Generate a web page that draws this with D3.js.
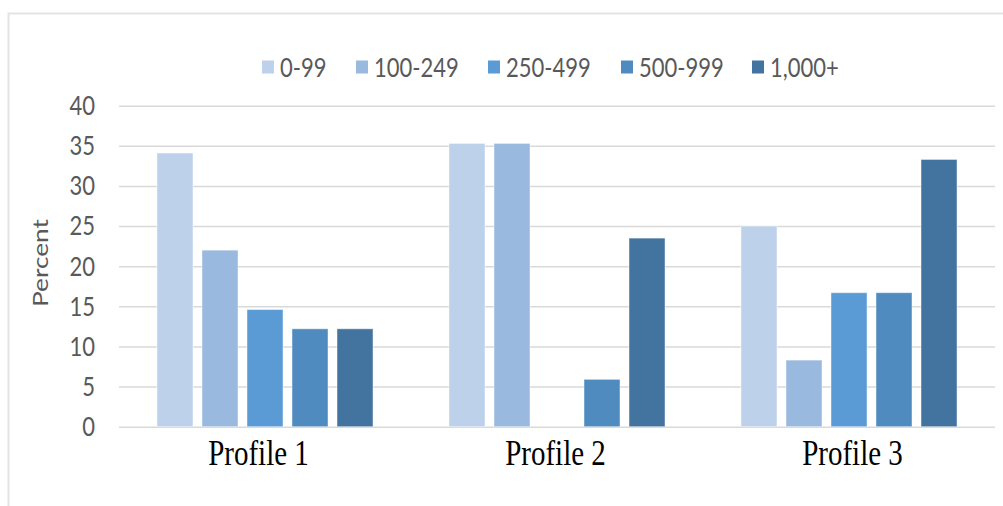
<!DOCTYPE html>
<html>
<head>
<meta charset="utf-8">
<script src="https://cdn.jsdelivr.net/npm/d3@7"></script>
<style>
  html, body { margin: 0; padding: 0; background: #fff; }
  svg { display: block; }
</style>
</head>
<body>
<svg id="chart" width="1003" height="506"></svg>
<script>
// Company size distribution (percent) for each profile
const profiles = ["Profile 1", "Profile 2", "Profile 3"];
const sizeClasses = ["0-99", "100-249", "250-499", "500-999", "1,000+"];
const size0to99 = [34.1, 35.3, 25.0];
const size100to249 = [22.0, 35.3, 8.3];
const size250to499 = [14.6, 0, 16.7];
const size500to999 = [12.2, 5.9, 16.7];
const size1000plus = [12.2, 23.5, 33.3];
const yTicks = [0, 5, 10, 15, 20, 25, 30, 35, 40];
const palette = ["#bdd1eb", "#99b9df", "#5b9bd5", "#4f8bbf", "#43739f"];

const seriesValues = [size0to99, size100to249, size250to499, size500to999, size1000plus];
const rows = [];
profiles.forEach((p, i) => {
  sizeClasses.forEach((s, j) => rows.push({ profile: p, size: s, value: seriesValues[j][i] }));
});

const svg = d3.select("#chart");
const STRETCH = 1.25;           // text is drawn slightly tall
const uiFont = "Lato, 'Noto Sans', sans-serif";

// outer frame
svg.append("path")
  .attr("d", "M8.5,510 V13.5 H1010")
  .attr("fill", "none")
  .attr("stroke", "#e4e4e4")
  .attr("stroke-width", 2);

const plotLeft = 119, plotRight = 995, plotTop = 105.7, plotBottom = 426.7;

const x0 = d3.scaleBand().domain(profiles).range([plotLeft, plotRight]).padding(0);
const x1 = d3.scaleBand().domain(sizeClasses).range([0, x0.bandwidth()])
  .paddingInner(0.2).paddingOuter(0.844);
const y = d3.scaleLinear().domain([0, 40]).range([plotBottom, plotTop]);
const color = d3.scaleOrdinal().domain(sizeClasses).range(palette);

// gridlines and y tick labels
const yAxis = svg.append("g")
  .attr("transform", `translate(${plotLeft},0)`)
  .call(d3.axisLeft(y).tickValues(yTicks).tickSizeInner(-(plotRight - plotLeft)).tickSizeOuter(0).tickPadding(24));
yAxis.select(".domain").remove();
yAxis.selectAll(".tick line").attr("stroke", "#d9d9d9").attr("stroke-width", 1.5);
yAxis.selectAll(".tick text")
  .attr("fill", "#595959")
  .style("font-family", uiFont)
  .style("font-size", "22px")
  .attr("transform", `scale(1,${STRETCH})`);

// bars
svg.append("g").selectAll("rect")
  .data(rows)
  .join("rect")
  .attr("x", d => x0(d.profile) + x1(d.size))
  .attr("width", x1.bandwidth())
  .attr("y", d => y(d.value))
  .attr("height", d => y(0) - y(d.value))
  .attr("fill", d => color(d.size))
  .attr("stroke", d => d.value > 0 ? "rgba(255,255,255,0.45)" : "none")
  .attr("stroke-width", 1);

// category labels, set in a serif face under each group
const xLabel = d3.scalePoint().domain(profiles).range([258, 852]);
const xAxis = svg.append("g")
  .attr("transform", `translate(0,${plotBottom})`)
  .call(d3.axisBottom(xLabel).tickSize(0).tickPadding(0));
xAxis.select(".domain").remove();
xAxis.selectAll(".tick text")
  .attr("fill", "#000")
  .attr("y", 0).attr("dy", 0)
  .style("font-family", "'Liberation Serif', 'Times New Roman', serif")
  .style("font-size", "29px")
  .attr("transform", `translate(0,${465 - plotBottom}) scale(1,${STRETCH})`);

// y axis title
svg.append("text")
  .attr("transform", `translate(41,263) scale(1,${STRETCH}) rotate(-90)`)
  .attr("text-anchor", "middle")
  .attr("dy", "0.35em")
  .attr("fill", "#595959")
  .style("font-family", uiFont)
  .style("font-size", "21px")
  .text("Percent");

// legend
const legendX = [262, 356, 488, 621, 752];
const legend = svg.append("g");
sizeClasses.forEach((s, i) => {
  const g = legend.append("g").attr("transform", `translate(${legendX[i]},67)`);
  g.append("rect").attr("x", 0).attr("y", -6.5).attr("width", 12).attr("height", 13).attr("fill", color(s));
  g.append("text")
    .attr("x", 18)
    .attr("dy", "0.35em")
    .attr("fill", "#595959")
    .style("font-family", uiFont)
    .style("font-size", "22px")
    .attr("transform", `scale(1,${STRETCH})`)
    .text(s);
});
</script>
</body>
</html>
